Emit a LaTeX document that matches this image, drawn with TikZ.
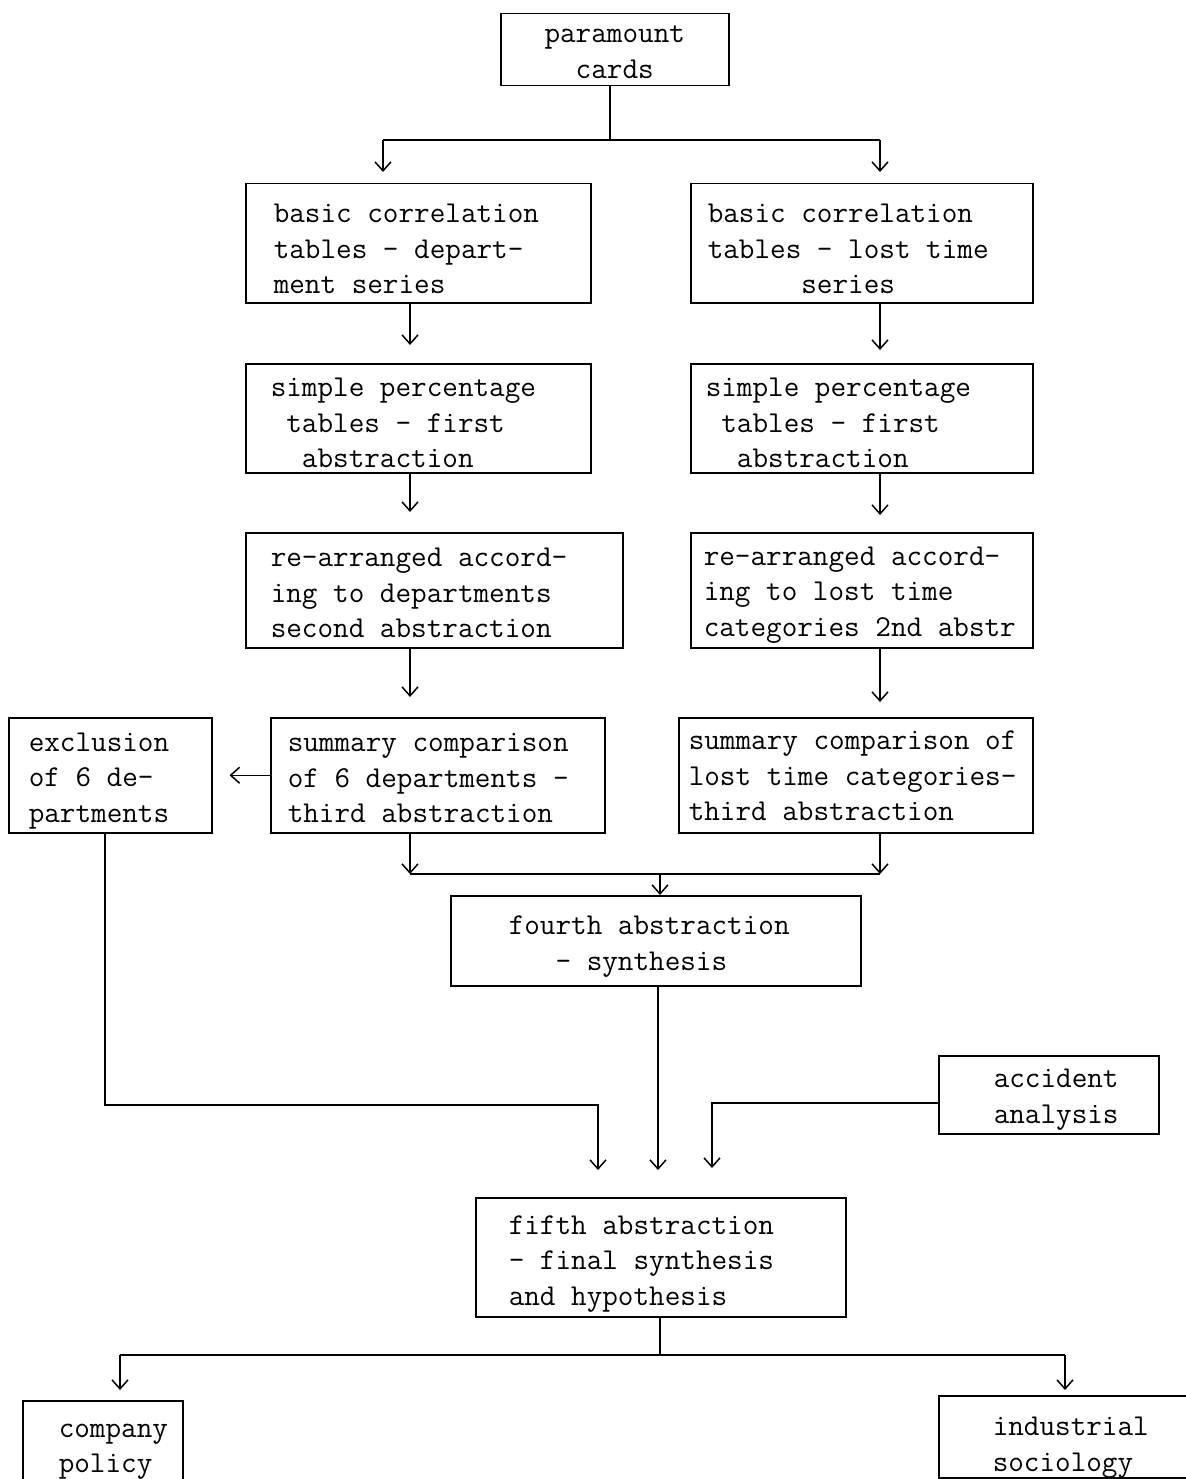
\documentclass[tikz,border=0pt]{standalone}
\usepackage{fontspec}
\usetikzlibrary{arrows.meta}
\newcommand{\tyl}[1]{\mbox{#1}}
\newcommand{\Sp}{\phantom{x}}
\newcommand{\twfont}{\ttfamily\fontsize{30.3}{35.5}\selectfont}
\begin{document}
\begin{tikzpicture}[x=1pt,y=-1pt, line width=1.5pt,
  box/.style={draw, anchor=north west, align=left, inner ysep=0pt, font=\twfont},
  dn/.style={execute at begin node={\rule{0pt}{#1}}},
  arr/.style={-{Straight Barb[length=9pt,width=16pt]}}]
\useasboundingbox[fill=white] (0,0) rectangle (1185,1479);

% boxes
\node[box, align=center, inner xsep=10pt, text width=208pt, minimum height=72pt, dn=22pt] (para) at (500,13)
  {\tyl{paramount}\\\tyl{cards}};
\node[box, inner xsep=28pt, text width=289pt, minimum height=119pt, dn=30pt] (L1) at (245,183)
  {\tyl{basic\Sp correlation}\\\tyl{tables\Sp -\Sp depart-}\\\tyl{ment\Sp series}};
\node[box, inner xsep=17pt, text width=308pt, minimum height=119pt, dn=30pt] (R1) at (690,183)
  {\tyl{basic\Sp correlation}\\\tyl{tables\Sp -\Sp lost\Sp time}\\\tyl{\Sp\Sp\Sp\Sp\Sp\Sp series}};
\node[box, inner xsep=25pt, text width=295pt, minimum height=109pt, dn=28pt] (L2) at (245,363)
  {\tyl{simple\Sp percentage}\\\tyl{\Sp tables\Sp -\Sp first}\\\tyl{\Sp\Sp abstraction}};
\node[box, inner xsep=15pt, text width=312pt, minimum height=109pt, dn=28pt] (R2) at (690,363)
  {\tyl{simple\Sp percentage}\\\tyl{\Sp tables\Sp -\Sp first}\\\tyl{\Sp\Sp abstraction}};
\node[box, inner xsep=25pt, text width=327pt, minimum height=115pt, dn=24pt] (L3) at (245,532)
  {\tyl{re-arranged\Sp accord-}\\\tyl{ing\Sp to\Sp departments}\\\tyl{second\Sp abstraction}};
\node[box, inner xsep=13pt, text width=316pt, minimum height=115pt, dn=28pt] (R3) at (690,532)
  {\tyl{re-arranged\Sp accord-}\\\tyl{ing\Sp to\Sp lost\Sp time}\\\tyl{categories\Sp 2nd\Sp abstr}};
\node[box, inner xsep=17pt, text width=300pt, minimum height=115pt, dn=24pt] (L4) at (270,717)
  {\tyl{summary\Sp comparison}\\\tyl{of\Sp 6\Sp departments\Sp -}\\\tyl{third\Sp abstraction}};
\node[box, inner xsep=10pt, text width=334pt, minimum height=115pt, dn=20pt] (R4) at (678,717)
  {\tyl{summary\Sp comparison\Sp of}\\\tyl{lost\Sp time\Sp categories-}\\\tyl{third\Sp abstraction}};
\node[box, inner xsep=20pt, text width=163pt, minimum height=115pt, dn=30pt] (excl) at (8,717)
  {\tyl{exclusion}\\\tyl{of\Sp 6\Sp de-}\\\tyl{partments}};
\node[box, inner xsep=58pt, text width=294pt, minimum height=90pt, dn=30pt] (fourth) at (450,895)
  {\tyl{fourth\Sp abstraction}\\\tyl{\Sp\Sp\Sp -\Sp synthesis}};
\node[box, inner xsep=55pt, text width=110pt, minimum height=78pt, dn=28pt] (accident) at (938,1055)
  {\tyl{accident}\\\tyl{analysis}};
\node[box, inner xsep=33pt, text width=304pt, minimum height=119pt, dn=32pt] (fifth) at (475,1197)
  {\tyl{fifth\Sp abstraction}\\\tyl{-\Sp final\Sp synthesis}\\\tyl{and\Sp hypothesis}};
\node[box, inner xsep=36pt, text width=88pt, minimum height=102pt] (company) at (22,1400)
  {\tyl{company}\\\tyl{policy}};
\node[box, inner xsep=54pt, text width=144pt, minimum height=81pt, dn=40pt] (industrial) at (938,1395)
  {\tyl{industrial}\\\tyl{sociology}};

% connectors
\coordinate (j0) at (610,140);
\coordinate (jL) at (383,140);
\coordinate (jR) at (880,140);
\draw (para.south -| j0) -- (j0);
\draw (jL) -- (jR);
\draw[arr, shorten >=11pt] (jL) -- (L1.north -| jL);
\draw[arr, shorten >=11pt] (jR) -- (R1.north -| jR);

\coordinate (cL) at (410,0);
\coordinate (cR) at (880,0);
\draw[arr, shorten >=18pt] (L1.south -| cL) -- (L2.north -| cL);
\draw[arr, shorten >=13pt] (R1.south -| cR) -- (R2.north -| cR);
\draw[arr, shorten >=20pt] (L2.south -| cL) -- (L3.north -| cL);
\draw[arr, shorten >=17pt] (R2.south -| cR) -- (R3.north -| cR);
\draw[arr, shorten >=20pt] (L3.south -| cL) -- (L4.north -| cL);
\draw[arr, shorten >=15pt] (R3.south -| cR) -- (R4.north -| cR);
\draw[arr, shorten >=17pt] (L4.west) -- (excl.east);

\coordinate (m) at (660,874);
\draw (cL |- m) -- (cR |- m);
\draw[arr] (L4.south -| cL) -- (cL |- m);
\draw[arr] (R4.south -| cR) -- (cR |- m);
\draw[arr] (m) -- (fourth.north -| m);

\coordinate (cM) at (658,0);
\coordinate (cA) at (105,0);
\coordinate (kA) at (598,1105);
\coordinate (kB) at (712,1103);
\draw[arr, shorten >=27pt] (fourth.south -| cM) -- (fifth.north -| cM);
\draw[arr, shorten >=27pt] (excl.south -| cA) |- (kA) -- (fifth.north -| kA);
\draw[arr, shorten >=29pt] (accident.west |- kB) -- (kB) -- (fifth.north -| kB);

\coordinate (j5) at (660,1355);
\coordinate (jC) at (120,1355);
\coordinate (jI) at (1065,1355);
\draw (fifth.south -| j5) -- (j5);
\draw (jC) -- (jI);
\draw[arr, shorten >=10pt] (jC) -- (company.north -| jC);
\draw[arr, shorten >=5pt] (jI) -- (industrial.north -| jI);
\end{tikzpicture}
\end{document}
